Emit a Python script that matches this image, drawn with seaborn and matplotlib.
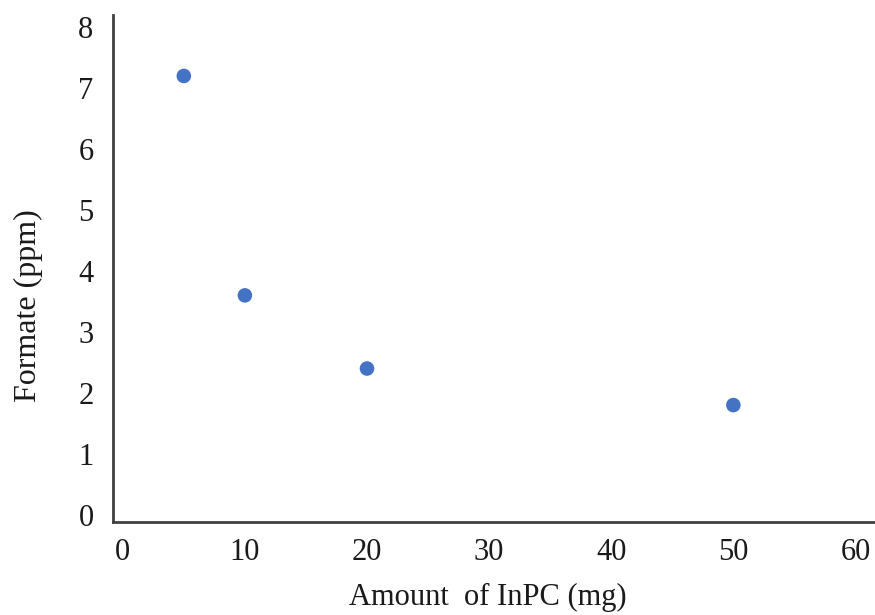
import matplotlib
matplotlib.use("Agg")
import matplotlib.pyplot as plt
import seaborn as sns
import pandas as pd

# Amount of photocatalyst vs. formate produced
amount_mg = [5, 10, 20, 50]
formate_ppm = [7.2, 3.6, 2.4, 1.8]
x_ticks = [0, 10, 20, 30, 40, 50, 60]
y_ticks = [0, 1, 2, 3, 4, 5, 6, 7, 8]

df = pd.DataFrame({"amount": amount_mg, "formate": formate_ppm})

sns.set_style("white")
plt.rcParams["font.family"] = ["Liberation Serif", "DejaVu Serif"]

W, H = 875, 615
fig = plt.figure(figsize=(W / 100, H / 100), dpi=100)
ax = fig.add_axes([113 / W, (H - 521.5) / H, (W - 113) / W, (521.5 - 15) / H])

sns.scatterplot(data=df, x="amount", y="formate", ax=ax, color="#4472C4",
                s=110, edgecolor="none", zorder=3)

ax.set_xlim(-0.8, 61.6)
ax.set_ylim(-0.11, 8.2)
ax.set_xticks(x_ticks)
ax.set_yticks(y_ticks)
ax.tick_params(axis="both", length=0, labelsize=22, colors="#1a1a1a")
ax.tick_params(axis="x", pad=12)
ax.tick_params(axis="y", pad=14)

for side in ("top", "right"):
    ax.spines[side].set_visible(False)
for side in ("left", "bottom"):
    ax.spines[side].set_color("#404040")
    ax.spines[side].set_linewidth(2)

ax.set_xlabel("Amount  of InPC (mg)", fontsize=22, color="#1a1a1a")
ax.set_ylabel("Formate (ppm)", fontsize=23, color="#1a1a1a")
ax.xaxis.set_label_coords(0.4915, -0.122)
ax.yaxis.set_label_coords(-0.092, 0.427)

fig.savefig("out.png", dpi=100)
